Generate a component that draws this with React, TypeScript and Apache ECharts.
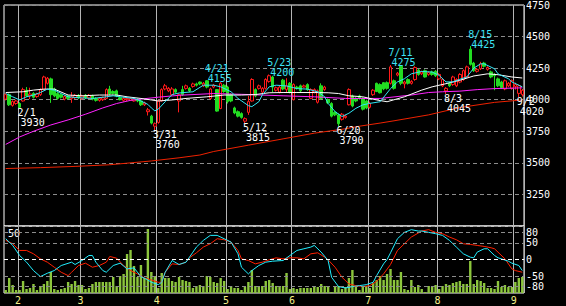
import React, { useEffect, useRef } from 'react';
import * as echarts from 'echarts';

const FONT = '"DejaVu Sans Mono", monospace';

const dates = [
  '1/26','1/27','1/28','1/31',
  '2/1','2/2','2/3','2/4','2/7','2/8','2/9','2/10','2/14','2/15','2/16','2/17','2/18','2/21','2/22','2/24','2/25','2/28',
  '3/1','3/2','3/3','3/4','3/7','3/8','3/9','3/10','3/11','3/14','3/15','3/16','3/17','3/18','3/22','3/23','3/24','3/25','3/28','3/29','3/30','3/31',
  '4/1','4/4','4/5','4/6','4/7','4/8','4/11','4/12','4/13','4/14','4/15','4/18','4/19','4/20','4/21','4/22','4/25','4/26','4/27','4/28',
  '5/2','5/6','5/9','5/10','5/11','5/12','5/13','5/16','5/17','5/18','5/19','5/20','5/23','5/24','5/25','5/26','5/27','5/30','5/31',
  '6/1','6/2','6/3','6/6','6/7','6/8','6/9','6/10','6/13','6/14','6/15','6/16','6/17','6/20','6/21','6/22','6/23','6/24','6/27','6/28','6/29','6/30',
  '7/1','7/4','7/5','7/6','7/7','7/8','7/11','7/12','7/13','7/14','7/15','7/19','7/20','7/21','7/22','7/25','7/26','7/27','7/28','7/29',
  '8/1','8/2','8/3','8/4','8/5','8/8','8/9','8/10','8/12','8/15','8/16','8/17','8/18','8/19','8/22','8/23','8/24','8/25','8/26','8/29','8/30','8/31',
  '9/1','9/2','9/5',
];

// [open, close, low, high]
const ohlc = [
  [4005,4040,3995,4050],[4040,3960,3950,4050],[3955,3985,3945,3995],[3970,3990,3960,4000],
  [3970,3940,3930,3980],[3990,4080,3985,4095],[4075,4030,4020,4100],[4030,4045,4005,4095],[4050,4020,4010,4060],[4025,4045,4015,4055],
  [4040,4080,4030,4090],[4080,4180,4075,4190],[4130,4170,4120,4180],[4165,4040,3975,4175],[4085,4030,4020,4095],[4050,4010,4000,4060],
  [4040,4020,4010,4050],[4005,4025,3995,4035],[4030,4010,4000,4040],[4010,4025,3975,4060],[4015,4035,4005,4045],[4035,4015,4005,4045],
  [4010,4030,4000,4040],[4035,4015,4005,4045],[4015,4035,4005,4045],[4030,4005,3995,4040],[4010,3995,3985,4020],[3995,4010,3985,4020],
  [4000,4015,3990,4025],[4010,4080,4005,4090],[4085,4045,4035,4110],[4065,4050,4040,4075],[4070,4030,4020,4080],[4015,4000,3995,4025],
  [3995,4010,3985,4020],[4000,4010,3990,4020],[3995,4010,3990,4020],[3990,4005,3985,4015],[4000,3990,3980,4010],[3990,3960,3950,4000],
  [3960,3975,3950,3985],[3905,3920,3875,3935],[3870,3815,3805,3880],[3790,3810,3760,3820],
  [3820,3990,3810,4000],[3990,4080,3985,4090],[4085,4110,4075,4125],[4070,4090,4060,4100],[4040,4085,4030,4100],[4080,4060,4050,4090],
  [3990,4040,3900,4050],[4080,4040,4030,4110],[4090,4110,4080,4120],[4090,4070,4060,4100],[4105,4125,4095,4135],[4125,4115,4105,4135],
  [4140,4125,4115,4145],[4110,4130,4100,4140],[4150,4100,4090,4155],[4010,4085,4000,4095],[4100,4115,4090,4125],[4080,3910,3905,4085],
  [3930,4130,3925,4140],[4115,4065,4055,4125],
  [4100,3985,3970,4110],[4040,3990,3980,4050],[3935,3895,3885,3945],[3905,3870,3860,3915],[3890,3860,3850,3900],[3830,3850,3815,3860],
  [3900,3985,3880,4030],[3990,4160,3985,4170],[4080,4030,4020,4090],[4090,4110,4080,4120],[4060,4090,4050,4100],[4090,4160,4080,4170],
  [4145,4190,4135,4200],[4180,4100,4060,4190],[4075,4095,4065,4105],[4060,4100,4050,4110],[4155,4085,4075,4165],[4080,4110,4060,4170],
  [4130,4060,4050,4140],
  [4000,4120,3995,4130],[4100,4090,4080,4110],[4110,4070,4060,4120],[4100,4110,4095,4120],[4120,4080,4070,4130],[4010,4080,4005,4090],
  [4060,4080,4050,4090],[3980,4070,3970,4080],[4110,4010,4000,4130],[4080,4100,4070,4110],[4000,3975,3965,4010],[3970,3870,3860,3980],
  [3900,3880,3870,3910],[3880,3810,3790,3890],[3845,3885,3835,3895],[3860,3870,3850,3880],[3960,4080,3955,4090],[4030,3950,3940,4040],
  [4010,3990,3980,4020],[4030,4010,4000,4040],[4010,3925,3915,4020],[3990,3935,3925,4000],
  [3940,3970,3930,3985],[4040,4075,4030,4085],[4130,4065,4060,4135],[4120,4055,4050,4130],[4135,4085,4075,4140],[4135,4090,4080,4145],
  [4130,4260,4120,4275],[4150,4090,4080,4160],[4195,4210,4185,4220],[4265,4130,4115,4270],[4125,4140,4090,4150],[4160,4130,4120,4170],
  [4130,4145,4120,4155],[4160,4255,4150,4265],[4235,4200,4190,4245],[4205,4220,4195,4230],[4230,4180,4175,4240],[4200,4215,4190,4225],
  [4220,4200,4190,4230],[4225,4190,4180,4235],
  [4165,4200,4155,4210],[4110,4160,4100,4170],[4070,4090,4045,4100],[4130,4110,4100,4140],[4120,4180,4110,4190],[4110,4160,4100,4170],
  [4140,4200,4130,4210],[4160,4230,4150,4240],[4180,4260,4170,4270],[4400,4280,4270,4425],[4290,4230,4220,4300],[4225,4240,4215,4250],
  [4245,4285,4235,4300],[4290,4265,4255,4300],[4240,4255,4230,4265],[4220,4180,4170,4230],[4200,4190,4075,4210],[4165,4110,4100,4175],
  [4140,4095,4085,4150],[4085,4150,4075,4160],[4110,4130,4100,4140],[4090,4150,4080,4160],
  [4105,4120,4080,4135],[4050,4110,4020,4120],[4040,4075,4025,4085],
];

const volume = [
  3,15,8,3,3,12,4,5,9,3, 6,9,12,21,4,3,4,5,11,9, 12,8,8,4,5,9,11,11,11,11, 11,16,7,17,19,39,43,27,16,28,
  15,64,21,17,5,20,15,15,12,11, 16,13,12,11,5,7,8,7,17,16, 11,10,15,12,4,7,5,5,3,6, 11,23,7,7,7,12,13,10,7,7,
  7,20,4,5,4,5,5,5,5,7, 6,9,7,7,1,7,7,4,6,15, 23,7,3,7,7,5,10,13,17,13, 19,24,13,13,21,4,3,13,6,8,
  4,1,7,7,8,4,7,9,8,10, 11,12,9,9,32,9,13,12,10,5, 5,4,12,6,8,6,6,11,15,16,
];

// moving averages: [day index, price]
const maShort = [[0,4049],[2,4023],[4,3998],[6,4023],[8,4037],[10,4057],[12,4084],[14,4076],[16,4049],[18,4023],[21,4016],[25,4010],[29,4023],[31,4031],[33,4023],[37,4010],[39,3990],[41,3963],[42,3935],[43,3912],[44,3925],[46,3984],[48,4041],[50,4053],[54,4063],[57,4115],[60,4115],[62,4102],[65,4063],[67,4010],[70,3953],[71,3945],[73,3984],[74,4037],[76,4102],[78,4115],[81,4109],[84,4088],[87,4084],[90,4063],[92,4023],[93,3971],[95,3906],[97,3867],[99,3893],[101,3932],[103,3959],[105,3971],[108,3984],[111,4088],[113,4141],[115,4166],[117,4205],[120,4224],[123,4219],[125,4193],[127,4141],[129,4141],[131,4162],[133,4180],[135,4250],[137,4284],[138,4284],[141,4245],[142,4205],[145,4166],[146,4141],[148,4115],[149,4102]];
const maMid = [[0,4057],[5,4063],[8,4076],[11,4084],[14,4084],[18,4037],[22,4031],[27,4037],[32,4037],[35,4023],[39,4010],[42,3998],[44,3990],[48,3998],[52,4010],[58,4023],[63,4037],[68,4037],[72,4041],[76,4055],[80,4057],[84,4057],[89,4057],[93,4055],[96,4049],[99,4031],[103,4023],[107,3998],[110,3984],[115,4023],[120,4076],[123,4102],[127,4127],[131,4154],[135,4188],[139,4205],[142,4198],[146,4180],[149,4172]];
const maLong = [[0,3646],[4,3705],[8,3750],[13,3800],[18,3840],[23,3885],[28,3935],[32,3970],[36,3995],[40,4008],[44,4020],[50,4035],[60,4049],[70,4041],[80,4031],[89,4023],[98,4010],[108,4010],[117,4037],[122,4057],[126,4063],[131,4068],[136,4080],[141,4088],[149,4094]];
const maLonger = [[0,3455],[10,3462],[20,3472],[30,3485],[42,3515],[50,3540],[56,3562],[60,3590],[70,3640],[80,3690],[89,3735],[98,3770],[102,3790],[108,3815],[112,3833],[122,3880],[131,3938],[141,3979],[149,3998]];

// oscillators in the lower panel (-100..100)
const oscCyan = [[0,62],[2,42],[4,12],[6,-8],[8,-33],[10,-51],[12,-41],[14,-33],[16,-18],[19,-8],[20,-15],[22,-3],[24,12],[25,12],[26,-8],[28,-33],[29,-38],[31,-18],[33,-11],[35,-28],[37,-25],[39,-51],[41,-61],[42,-68],[44,-75],[45,-68],[46,-38],[48,-3],[50,-15],[52,-8],[53,7],[54,22],[55,37],[57,57],[59,72],[61,72],[63,62],[65,52],[67,17],[68,-23],[70,-43],[71,-33],[73,-18],[75,-8],[77,-5],[80,-3],[82,12],[84,27],[86,32],[88,37],[89,42],[91,22],[93,-3],[94,-53],[96,-81],[98,-85],[100,-81],[102,-78],[104,-75],[106,-68],[107,-48],[109,-13],[110,0],[111,20],[113,62],[115,81],[117,89],[119,85],[120,85],[122,81],[124,77],[126,72],[128,57],[130,37],[132,17],[134,7],[135,5],[136,22],[138,32],[139,32],[141,12],[142,5],[145,-5],[146,-11],[148,-18],[149,-33]];
const oscRed = [[0,57],[2,47],[4,27],[6,27],[8,17],[10,2],[12,-8],[14,-23],[16,-38],[18,-48],[19,-38],[21,-18],[23,-11],[25,-23],[27,-18],[29,-8],[30,9],[32,4],[34,-18],[36,-33],[38,-43],[40,-55],[42,-61],[44,-68],[45,-68],[46,-38],[48,-13],[50,-15],[52,-8],[53,5],[55,20],[57,37],[59,47],[61,62],[63,59],[65,52],[67,27],[68,2],[70,-3],[72,-13],[74,-8],[76,-1],[78,5],[80,2],[82,5],[84,5],[86,2],[88,17],[90,20],[92,7],[93,-1],[95,-23],[97,-53],[99,-73],[101,-78],[103,-81],[105,-78],[107,-65],[109,-43],[111,-15],[113,27],[115,47],[117,67],[119,79],[120,85],[122,89],[124,81],[126,77],[128,67],[130,59],[132,47],[134,45],[136,42],[138,39],[140,35],[141,32],[142,22],[144,2],[146,-28],[147,-33],[149,-38]];

const markDates = ['2/1','3/31','4/21','5/12','5/23','6/20','7/11','8/3','8/15','9/2'];
const markValues = [3930, 3760, 4155, 3815, 4200, 3790, 4275, 4045, 4425, 4020];
const markIsHigh = [false, false, true, false, true, false, true, false, true, false];

const priceTicks = { min: 3000, max: 4750, interval: 250 };
const oscLabels = [80, 50, 0, -50, -80];
const volumeLabel = '50';

const CYAN_TXT = '#3de3f5';
const monthOf = (d: string) => d.split('/')[0];
const monthStart = dates.map((d, i) => i > 0 && monthOf(d) !== monthOf(dates[i - 1]));

function buildOption() {
  const vLine = { show: true, interval: (i: number) => monthStart[i], lineStyle: { color: '#b4b4b4', width: 1 } };
  const dash = [4, 3];
  return {
    animation: false,
    backgroundColor: '#000',
    textStyle: { fontFamily: FONT },
    grid: [
      { left: 4, top: 2, width: 520, height: 224, show: true, borderColor: '#fff', borderWidth: 1 },
      { left: 4, top: 226, width: 520, height: 67, show: true, borderColor: '#fff', borderWidth: 1 },
    ],
    xAxis: [
      { type: 'category', gridIndex: 0, data: dates, boundaryGap: true,
        axisLine: { show: false }, axisTick: { show: false }, axisLabel: { show: false }, splitLine: vLine },
      { type: 'category', gridIndex: 1, data: dates, boundaryGap: true,
        axisLine: { show: false }, axisTick: { show: false }, splitLine: vLine,
        axisLabel: { show: true, interval: (i: number) => monthStart[i], formatter: (v: string) => monthOf(v),
          color: '#f5f08a', fontSize: 10, fontFamily: FONT, margin: 2, padding: [0, 3, 0, 0] } },
    ],
    yAxis: [
      { type: 'value', gridIndex: 0, position: 'right', min: priceTicks.min, max: priceTicks.max, interval: priceTicks.interval,
        axisLine: { show: false }, axisTick: { show: false },
        axisLabel: { color: '#fff', fontSize: 10, fontFamily: FONT, margin: 2, padding: [2, 0, 0, 0],
          formatter: (v: number) => (v === priceTicks.min ? '' : String(v)) },
        splitLine: { show: true, lineStyle: { color: '#8c8c8c', type: dash, width: 1 } } },
      { type: 'value', gridIndex: 1, position: 'right', min: -100, max: 100, interval: 10,
        axisLine: { show: false }, axisTick: { show: false }, splitLine: { show: false },
        axisLabel: { color: '#fff', fontSize: 10, fontFamily: FONT, margin: 2,
          formatter: (v: number) => (oscLabels.includes(v) ? String(v) : '') } },
      { type: 'value', gridIndex: 1, min: 0, max: 67, show: false },
    ],
    graphic: [
      { type: 'text', left: 8, top: 228, style: { text: volumeLabel, fill: '#fff', font: `10px ${FONT}` } },
    ],
    series: [
      {
        type: 'candlestick', xAxisIndex: 0, yAxisIndex: 0, data: ohlc, barWidth: 3,
        itemStyle: { color: '#000', color0: '#22dd22', borderColor: '#ff1a1a', borderColor0: '#22dd22', borderWidth: 1 },
        markPoint: {
          symbol: 'circle', symbolSize: 0, silent: true,
          data: markDates.map((d, k) => ({
            coord: [d, markValues[k]],
            label: {
              show: true,
              position: markIsHigh[k] ? [-2, -17] : [-2, -1],
              formatter: `{d|${d}}\n{v|${markValues[k]}}`,
              color: markIsHigh[k] ? CYAN_TXT : '#fff',
              fontSize: 10, fontFamily: FONT, lineHeight: 10,
              rich: {
                d: { color: markIsHigh[k] ? CYAN_TXT : '#fff', fontSize: 10, fontFamily: FONT, lineHeight: 10 },
                v: { color: markIsHigh[k] ? CYAN_TXT : '#fff', fontSize: 10, fontFamily: FONT, lineHeight: 10, padding: [0, 0, 0, 3] },
              },
            },
          })),
        },
      },
      { type: 'line', xAxisIndex: 0, yAxisIndex: 0, data: maLonger, showSymbol: false, silent: true, lineStyle: { color: '#ee2200', width: 1 } },
      { type: 'line', xAxisIndex: 0, yAxisIndex: 0, data: maLong, showSymbol: false, silent: true, lineStyle: { color: '#ff22ff', width: 1 } },
      { type: 'line', xAxisIndex: 0, yAxisIndex: 0, data: maMid, showSymbol: false, silent: true, lineStyle: { color: '#ffffff', width: 1 } },
      { type: 'line', xAxisIndex: 0, yAxisIndex: 0, data: maShort, showSymbol: false, silent: true, lineStyle: { color: '#30e6f5', width: 1 } },
      { type: 'bar', xAxisIndex: 1, yAxisIndex: 2, data: volume, barWidth: 2.4, silent: true, itemStyle: { color: '#8cc63c' } },
      {
        type: 'line', xAxisIndex: 1, yAxisIndex: 1, data: oscRed, showSymbol: false, silent: true, lineStyle: { color: '#ff2000', width: 1 },
        markLine: {
          silent: true, symbol: 'none', label: { show: false },
          data: oscLabels.map((v) => ({ yAxis: v, lineStyle: { color: v === 0 ? '#ffffff' : '#8c8c8c', type: dash, width: 1 } })),
        },
      },
      { type: 'line', xAxisIndex: 1, yAxisIndex: 1, data: oscCyan, showSymbol: false, silent: true, lineStyle: { color: '#22eeff', width: 1 } },
    ],
  };
}

export default function App() {
  const ref = useRef<HTMLDivElement>(null);
  useEffect(() => {
    const chart = echarts.init(ref.current!, undefined, { renderer: 'svg' });
    chart.setOption(buildOption() as any);
    return () => chart.dispose();
  }, []);
  return <div ref={ref} style={{ position: 'fixed', left: 0, top: 0, width: 566, height: 306, background: '#000' }} />;
}
